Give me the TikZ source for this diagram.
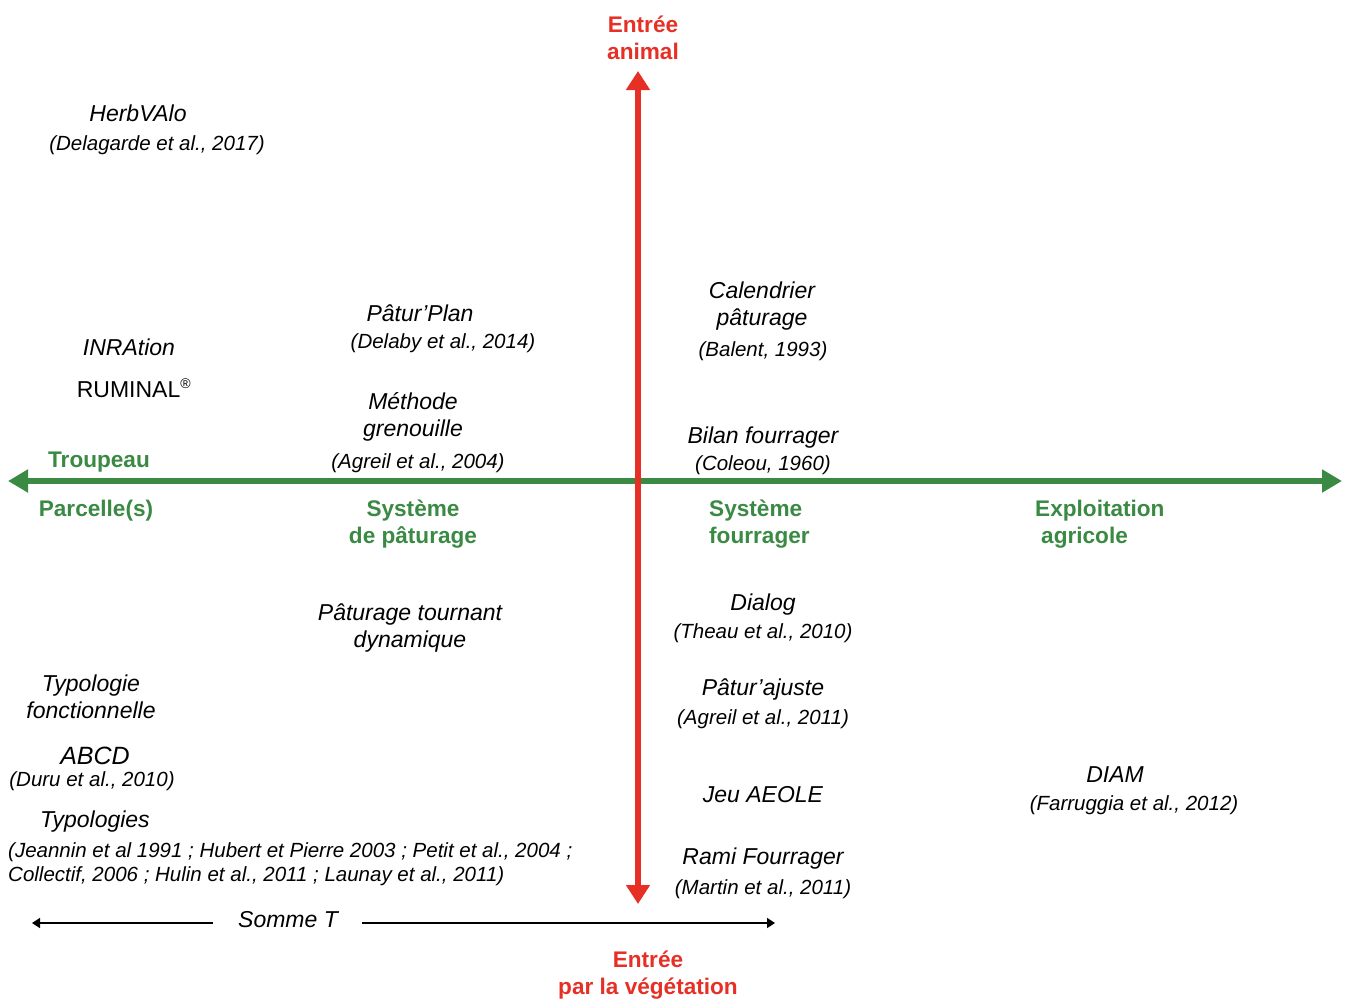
\documentclass[tikz,border=0pt]{standalone}
\usepackage{fontspec}
\setmainfont{Liberation Sans}
\usepackage{xcolor}
\usepackage{tikz}
\usetikzlibrary{arrows.meta}
\definecolor{entreered}{RGB}{230,48,38}
\definecolor{axegreen}{RGB}{58,138,68}

\begin{document}
\begin{tikzpicture}[x=1pt,y=-1pt,
    tool/.style={font=\fontsize{23}{27}\selectfont\itshape, align=center, inner sep=0pt, yshift=-2pt},
    cite/.style={font=\fontsize{20.5}{24.5}\selectfont\itshape, align=center, inner sep=0pt, yshift=-2pt},
    level/.style={font=\fontsize{22.6}{27}\selectfont\bfseries, text=axegreen, align=center, inner sep=0pt, yshift=-2pt},
    entry/.style={font=\fontsize{22.6}{27}\selectfont\bfseries, text=entreered, align=center, inner sep=0pt, yshift=-2pt}]
        \useasboundingbox (0,0) rectangle (1349,999);

        % axes
        \coordinate (hleft) at (8,481);
        \coordinate (hright) at (1342,481);
        \coordinate (vtop) at (638,71);
        \coordinate (vbot) at (638,904);
        \draw[axegreen, line width=6.5pt, {Triangle[width=22pt,length=20pt]}-{Triangle[width=22pt,length=20pt]}] (hleft) -- (hright);
        \draw[entreered, line width=6pt, {Triangle[width=23pt,length=19pt]}-{Triangle[width=23pt,length=19pt]}] (vbot) -- (vtop);

        \node[entry] (animal) at (643,36) {Entrée\\animal};
        \node[entry] (vegetation) at (648,973) {Entrée\\par la végétation};

        \node[level] (troupeau) at (99,460) {Troupeau};
        \node[level] (parcelle) at (96,509) {Parcelle(s)};
        \node[level] (systpat) at (413,522) {Système\\de pâturage};
        \node[level, align=left, anchor=west] (systfour) at (709,522) {Système\\fourrager};
        \node[level, align=left, anchor=west] (exploit) at (1035,522) {Exploitation\\\hspace*{6pt}agricole};

        % outils
        \node[tool] (herbvalo) at (138,111) {HerbVAlo};
        \node[cite] (herbvalo-c) at (157,143) {(Delagarde et al., 2017)};
        \node[tool] (inration) at (129,345) {INRAtion};
        \node[tool, font=\fontsize{23}{27}\selectfont] (ruminal) at (134,386) {RUMINAL\textsuperscript{\fontsize{14}{14}\selectfont\textregistered}};

        \node[tool] (paturplan) at (420,311) {Pâtur’Plan};
        \node[cite] (paturplan-c) at (443,341) {(Delaby et al., 2014)};
        \node[tool] (grenouille) at (413,415) {Méthode\\grenouille};
        \node[cite] (grenouille-c) at (418,461) {(Agreil et al., 2004)};

        \node[tool] (calendrier) at (762,304) {Calendrier\\ pâturage};
        \node[cite] (calendrier-c) at (763,349) {(Balent, 1993)};
        \node[tool] (bilan) at (763,436) {Bilan fourrager};
        \node[cite] (bilan-c) at (763,463) {(Coleou, 1960)};

        \node[tool] (tournant) at (410,626) {Pâturage tournant\\dynamique};

        \node[tool] (dialog) at (763,603) {Dialog};
        \node[cite] (dialog-c) at (763,631) {(Theau et al., 2010)};
        \node[tool] (paturajuste) at (763,688) {Pâtur’ajuste};
        \node[cite] (paturajuste-c) at (763,717) {(Agreil et al., 2011)};
        \node[tool] (aeole) at (763,793) {Jeu AEOLE};
        \node[tool] (rami) at (763,857) {Rami Fourrager};
        \node[cite] (rami-c) at (763,887) {(Martin et al., 2011)};

        \node[tool] (diam) at (1115,773) {DIAM};
        \node[cite] (diam-c) at (1134,803) {(Farruggia et al., 2012)};

        \node[tool] (fonctionnelle) at (91,695) {Typologie\\fonctionnelle};
        \node[tool, font=\fontsize{25}{30}\selectfont\itshape] (abcd) at (95,754) {ABCD};
        \node[cite] (abcd-c) at (92,779) {(Duru et al., 2010)};
        \node[tool] (typologies) at (95,820) {Typologies};
        \node[cite, align=left, anchor=west] (typologies-c) at (8,862) {(Jeannin et al 1991 ; Hubert et Pierre 2003 ; Petit et al., 2004 ;\\Collectif, 2006 ; Hulin et al., 2011 ; Launay et al., 2011)};

        % somme T
        \node[tool] (sommet) at (288,918) {Somme T};
        \coordinate (sleft) at (32,923);
        \coordinate (sleftend) at (213,923);
        \coordinate (srightstart) at (362,923);
        \coordinate (sright) at (775,923);
        \draw[line width=1.5pt, -{Triangle[width=10pt,length=8pt]}] (sleftend) -- (sleft);
        \draw[line width=1.5pt, -{Triangle[width=10pt,length=8pt]}] (srightstart) -- (sright);
    \end{tikzpicture}
\end{document}
